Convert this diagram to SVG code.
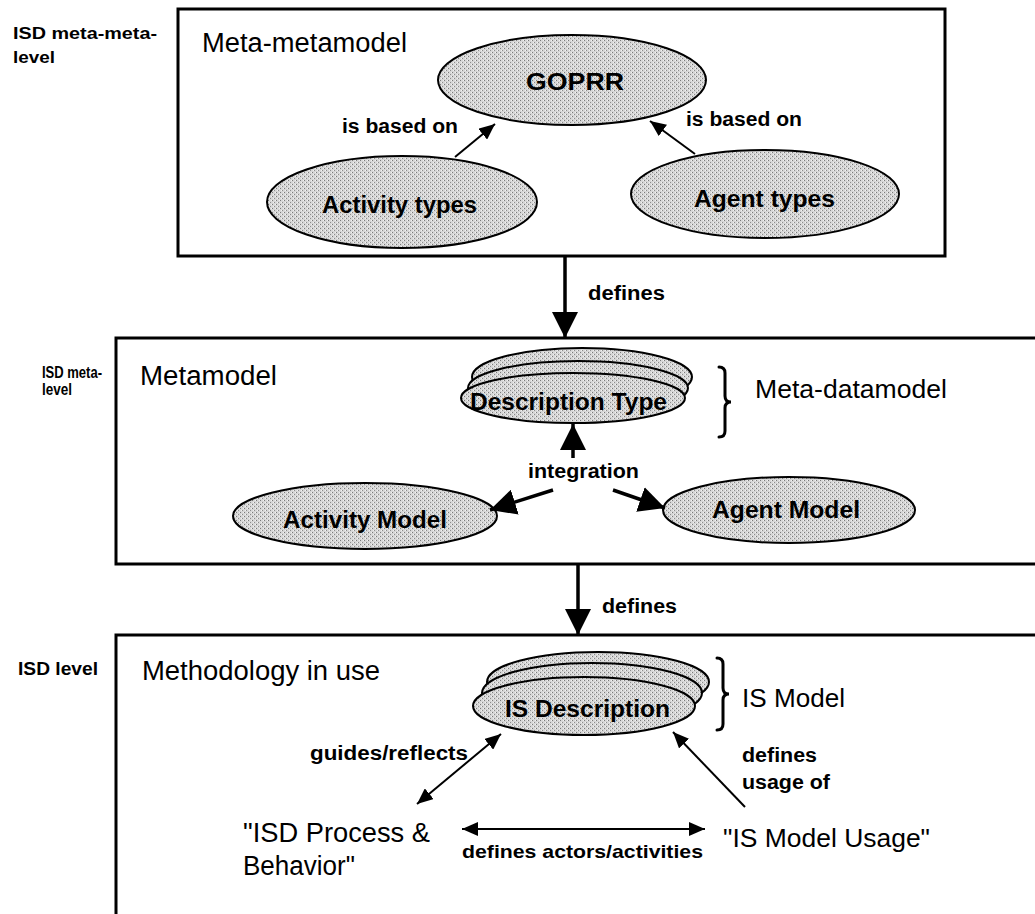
<svg xmlns="http://www.w3.org/2000/svg" width="1035" height="914" viewBox="0 0 1035 914">
  <style>
    .frame { fill: none; stroke: #000; stroke-width: 3; }
    .blob { fill: url(#dots); stroke: #000; stroke-width: 2; }
    .brace { fill: none; stroke: #000; stroke-width: 3; stroke-linecap: round; }
    .t { font-family: "Liberation Sans", Arial, Helvetica, sans-serif; fill: #000; }
    .lvl { font-size: 17px; font-weight: bold; }
    .title { font-size: 27px; }
    .node { font-size: 24px; font-weight: bold; text-anchor: start; }
    .lab { font-size: 20px; font-weight: bold; }
    .thin { fill: none; stroke: #000; stroke-width: 2; }
    .thick { fill: none; stroke: #000; stroke-width: 3.5; }
  </style>
  <defs>
    <!-- halftone-like grey fill for the ellipses -->
    <pattern id="dots" width="4" height="4" patternUnits="userSpaceOnUse">
      <rect width="4" height="4" fill="#d6d6d6"/>
      <rect x="0" y="0" width="1" height="1" fill="#7a7a7a"/>
      <rect x="2" y="2" width="1" height="1" fill="#8c8c8c"/>
      <rect x="3" y="0" width="1" height="1" fill="#f2f2f2"/>
      <rect x="1" y="2" width="1" height="1" fill="#f2f2f2"/>
    </pattern>
    <marker id="arrSm" viewBox="0 0 16 14" refX="16" refY="7" markerWidth="16" markerHeight="14" markerUnits="userSpaceOnUse" orient="auto-start-reverse">
      <path d="M0,0 L16,7 L0,14 z" fill="#000"/>
    </marker>
    <marker id="arrLg" viewBox="0 0 26 26" refX="26" refY="13" markerWidth="26" markerHeight="26" markerUnits="userSpaceOnUse" orient="auto">
      <path d="M0,0 L26,13 L0,26 z" fill="#000"/>
    </marker>
  </defs>

  <!-- level captions at the left margin -->
  <g id="level-captions" class="t lvl">
    <text x="13" y="39" textLength="144" lengthAdjust="spacingAndGlyphs">ISD meta-meta-</text>
    <text x="13" y="63" textLength="42" lengthAdjust="spacingAndGlyphs">level</text>
    <text x="42" y="378" font-size="16" textLength="60" lengthAdjust="spacingAndGlyphs">ISD meta-</text>
    <text x="42" y="395" font-size="16" textLength="30" lengthAdjust="spacingAndGlyphs">level</text>
    <text x="18" y="675" font-size="18" textLength="80" lengthAdjust="spacingAndGlyphs">ISD level</text>
  </g>

  <!-- level frames -->
  <g id="meta-metamodel">
    <rect class="frame" x="178" y="9" width="767" height="247"/>
    <text class="t title" x="202" y="52" textLength="205" lengthAdjust="spacingAndGlyphs">Meta-metamodel</text>
  </g>
  <g id="metamodel">
    <rect class="frame" x="116" y="338" width="940" height="226"/>
    <text class="t title" x="140" y="385" textLength="137" lengthAdjust="spacingAndGlyphs">Metamodel</text>
  </g>
  <g id="methodology-in-use">
    <rect class="frame" x="116" y="635" width="940" height="300"/>
    <text class="t title" x="142" y="680" font-size="26" textLength="238" lengthAdjust="spacingAndGlyphs">Methodology in use</text>
  </g>

  <!-- meta-metamodel nodes -->
  <g id="goprr">
    <ellipse class="blob" cx="572" cy="80" rx="134" ry="45"/>
    <text class="t node" x="526" y="90" font-size="25" textLength="98" lengthAdjust="spacingAndGlyphs">GOPRR</text>
  </g>
  <g id="activity-types">
    <ellipse class="blob" cx="402" cy="202" rx="135" ry="46"/>
    <text class="t node" x="322" y="213" font-size="25" textLength="155" lengthAdjust="spacingAndGlyphs">Activity types</text>
  </g>
  <g id="agent-types">
    <ellipse class="blob" cx="765" cy="194" rx="134" ry="44"/>
    <text class="t node" x="694" y="207" font-size="25" textLength="141" lengthAdjust="spacingAndGlyphs">Agent types</text>
  </g>

  <!-- metamodel nodes -->
  <g id="description-type">
    <ellipse class="blob" cx="582" cy="377" rx="110" ry="29"/>
    <ellipse class="blob" cx="578" cy="388" rx="110" ry="27"/>
    <ellipse class="blob" cx="573" cy="398" rx="112" ry="25"/>
    <text class="t node" x="470" y="410" textLength="197" lengthAdjust="spacingAndGlyphs">Description Type</text>
  </g>
  <g id="meta-datamodel">
    <path class="brace" d="M719,367 Q725,367 725,373 L725,396 Q725,402 731,402 Q725,402 725,408 L725,431 Q725,437 719,437"/>
    <text class="t" x="755" y="398" font-size="26" textLength="192" lengthAdjust="spacingAndGlyphs">Meta-datamodel</text>
  </g>
  <g id="activity-model">
    <ellipse class="blob" cx="365" cy="516" rx="132" ry="33"/>
    <text class="t node" x="283" y="528" textLength="164" lengthAdjust="spacingAndGlyphs">Activity Model</text>
  </g>
  <g id="agent-model">
    <ellipse class="blob" cx="789" cy="510" rx="126" ry="33"/>
    <text class="t node" x="712" y="518" textLength="148" lengthAdjust="spacingAndGlyphs">Agent Model</text>
  </g>

  <!-- ISD level nodes -->
  <g id="is-description">
    <ellipse class="blob" cx="598" cy="682" rx="111" ry="30"/>
    <ellipse class="blob" cx="592" cy="693" rx="110" ry="30"/>
    <ellipse class="blob" cx="584" cy="706" rx="111" ry="29"/>
    <text class="t node" x="505" y="717" textLength="165" lengthAdjust="spacingAndGlyphs">IS Description</text>
  </g>
  <g id="is-model">
    <path class="brace" d="M717,658 Q723,658 723,664 L723,688 Q723,694 729,694 Q723,694 723,700 L723,724 Q723,730 717,730"/>
    <text class="t" x="742" y="707" font-size="26" textLength="103" lengthAdjust="spacingAndGlyphs">IS Model</text>
  </g>
  <g id="isd-process-behavior">
    <text class="t title" x="243" y="842" textLength="187" lengthAdjust="spacingAndGlyphs">"ISD Process &amp;</text>
    <text class="t title" x="243" y="875" textLength="112" lengthAdjust="spacingAndGlyphs">Behavior"</text>
  </g>
  <g id="is-model-usage">
    <text class="t" x="723" y="847" font-size="26" textLength="207" lengthAdjust="spacingAndGlyphs">"IS Model Usage"</text>
  </g>

  <!-- connectors -->
  <g id="connectors">
    <line class="thin" x1="455" y1="157" x2="495" y2="124" marker-end="url(#arrSm)"/>
    <line class="thin" x1="695" y1="154" x2="650" y2="121" marker-end="url(#arrSm)"/>
    <line class="thick" x1="565" y1="256" x2="565" y2="338" marker-end="url(#arrLg)"/>
    <line class="thick" x1="573" y1="458" x2="573" y2="424" marker-end="url(#arrLg)"/>
    <line class="thick" x1="553" y1="490" x2="490" y2="510" marker-end="url(#arrLg)"/>
    <line class="thick" x1="613" y1="490" x2="665" y2="508" marker-end="url(#arrLg)"/>
    <line class="thick" x1="578" y1="564" x2="578" y2="635" marker-end="url(#arrLg)"/>
    <line class="thin" x1="417" y1="804" x2="501" y2="734" marker-start="url(#arrSm)" marker-end="url(#arrSm)"/>
    <line class="thin" x1="745" y1="807" x2="673" y2="732" marker-end="url(#arrSm)"/>
    <line class="thin" x1="462" y1="829" x2="705" y2="829" marker-start="url(#arrSm)" marker-end="url(#arrSm)"/>
  </g>

  <!-- connector labels -->
  <g id="connector-labels" class="t lab">
    <text x="342" y="133" textLength="116" lengthAdjust="spacingAndGlyphs">is based on</text>
    <text x="686" y="126" textLength="116" lengthAdjust="spacingAndGlyphs">is based on</text>
    <text x="588" y="300" textLength="77" lengthAdjust="spacingAndGlyphs">defines</text>
    <text x="528" y="478" textLength="111" lengthAdjust="spacingAndGlyphs">integration</text>
    <text x="602" y="613" textLength="75" lengthAdjust="spacingAndGlyphs">defines</text>
    <text x="310" y="760" textLength="158" lengthAdjust="spacingAndGlyphs">guides/reflects</text>
    <text x="742" y="762" textLength="75" lengthAdjust="spacingAndGlyphs">defines</text>
    <text x="742" y="789" textLength="88" lengthAdjust="spacingAndGlyphs">usage of</text>
    <text x="462" y="858" font-size="19" textLength="241" lengthAdjust="spacingAndGlyphs">defines actors/activities</text>
  </g>
</svg>
